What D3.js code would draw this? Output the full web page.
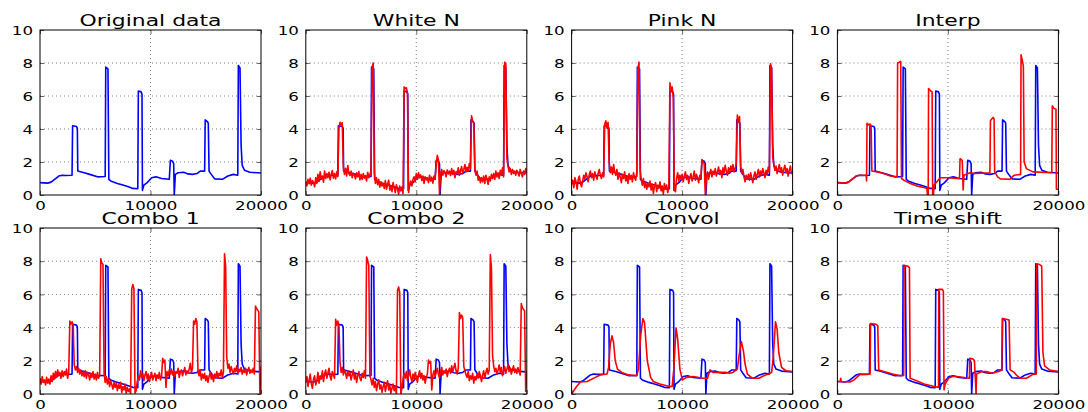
<!DOCTYPE html>
<html>
<head>
<meta charset="utf-8">
<script src="https://cdn.jsdelivr.net/npm/d3@7"></script>
<style>
body { margin: 0; background: #fff; }
text { font-family: "DejaVu Sans", sans-serif; fill: #000; }
</style>
</head>
<body>
<div class="chart"></div>
<script>
// Panel titles and tick labels
var titles = ["Original data", "White N", "Pink N", "Interp", "Combo 1", "Combo 2", "Convol", "Time shift"];
var xTicks = [0, 10000, 20000];
var yTicks = [0, 2, 4, 6, 8, 10];

// Original signal, [sample, value] breakpoints
var original = [[0,0.75],[700,0.72],[1000,0.78],[1700,1.15],[2000,1.2],[2300,1.18],[2900,1.2],[2950,4.2],[3300,4.15],[3380,4.05],
  [3420,1.45],[4000,1.35],[4500,1.25],[5200,1.1],[5900,1.12],[5950,7.75],[6150,7.65],[6230,0.95],[6400,0.85],[7000,0.7],
  [7500,0.6],[8000,0.5],[8400,0.4],[8850,0.38],[8900,6.3],[9150,6.25],[9230,6.1],[9270,0.28],[9400,0.6],[9700,0.75],
  [10100,1.05],[10500,1.1],[11000,1.0],[11700,0.95],[11800,2.1],[12000,2.05],[12100,1.9],[12150,0.02],[12250,1.25],[12500,1.35],
  [13000,1.38],[13400,1.28],[13800,1.25],[14200,1.3],[14500,1.45],[14900,1.45],[14950,4.55],[15150,4.45],[15230,4.35],[15300,1.45],
  [15500,1.25],[15800,0.98],[16500,0.95],[17000,1.15],[17500,1.25],[17900,1.2],[17950,7.85],[18100,7.7],[18200,3.0],[18300,1.8],
  [18500,1.5],[19000,1.38],[20000,1.33]];

// Time-warped signal
var interp = [[0,0.75],[700,0.72],[1000,0.78],[1700,1.15],[2000,1.2],[2600,1.2],[2640,0.85],[2680,4.35],[2800,4.25],[2950,4.3],
  [3050,4.2],[3120,1.45],[3600,1.4],[4200,1.3],[4800,1.15],[5400,1.1],[5450,8.0],[5600,8.05],[5730,8.1],[5800,1.0],
  [6000,0.9],[6600,0.7],[7200,0.55],[7800,0.45],[8100,0.4],[8150,0.0],[8220,0.0],[8250,6.45],[8450,6.3],[8570,6.25],
  [8620,0.0],[8700,0.05],[8750,0.6],[9000,0.8],[9300,1.05],[10000,1.05],[10800,1.0],[11050,1.0],[11100,2.2],[11300,2.1],
  [11380,0.3],[11450,1.2],[12000,1.35],[12500,1.3],[13800,1.35],[13850,4.5],[13950,4.6],[14100,4.7],[14180,4.6],[14230,1.4],
  [14500,1.1],[14750,0.98],[15600,0.95],[16000,1.2],[16580,1.25],[16620,8.5],[16750,8.1],[16830,7.8],[16900,2.0],[17100,1.6],
  [17700,1.4],[19400,1.35],[19450,5.4],[19600,5.25],[19780,5.2],[19820,0.35],[20000,0.35]];

// Smoothed (convolved) signal
var convol = [[0,0],[450,0.45],[800,0.72],[1400,0.75],[2150,1.0],[2600,1.15],[3200,1.2],[3350,1.6],[3500,3.0],[3650,3.5],
  [3800,3.1],[3950,2.0],[4150,1.5],[4550,1.3],[5140,1.15],[5890,1.1],[6050,1.5],[6250,3.5],[6450,4.55],[6600,4.3],
  [6850,2.0],[7150,1.0],[7400,0.75],[7980,0.6],[8880,0.45],[9100,0.45],[9250,1.5],[9450,3.98],[9600,3.3],[9800,1.5],
  [10020,0.85],[10400,1.0],[11000,1.05],[11900,0.95],[12300,0.95],[12530,1.45],[12800,1.3],[14000,1.3],[14300,1.25],[14600,1.3],
  [15000,1.5],[15150,2.3],[15370,3.15],[15550,2.6],[15700,1.8],[15910,1.2],[16350,0.95],[16950,0.95],[17550,1.15],[17850,1.2],
  [18100,1.3],[18250,2.2],[18450,4.35],[18600,3.9],[18750,2.5],[19000,1.6],[19400,1.4],[20000,1.35]];

// Time-shifted signal
var shifted = [[0,0.75],[250,0.75],[300,0.95],[350,0.75],[1150,0.72],[1500,0.85],[2050,1.18],[2960,1.2],[3000,4.25],[3500,4.2],
  [3650,4.12],[3740,1.45],[4200,1.35],[5000,1.2],[5670,1.1],[6000,1.12],[6030,7.75],[6400,7.7],[6520,7.6],[6580,0.95],
  [7000,0.85],[7850,0.6],[8750,0.45],[9150,0.4],[9170,6.3],[9500,6.3],[9590,6.2],[9650,0.25],[9750,0.6],[10050,0.95],
  [10400,1.05],[10800,1.05],[11950,0.95],[11980,2.15],[12300,2.1],[12400,2.0],[12550,0.0],[12600,1.2],[13060,1.35],[13500,1.35],
  [14000,1.25],[14600,1.35],[14870,1.45],[14930,4.55],[15300,4.5],[15540,4.45],[15630,1.45],[16000,1.3],[16250,1.1],[16530,0.95],
  [17100,0.95],[17740,1.2],[18000,1.2],[18040,7.85],[18300,7.8],[18490,7.7],[18600,2.5],[18750,1.7],[19200,1.45],[20000,1.35]];

// Noisy series, one value every noiseStep samples
var noiseStep = 100;
var whiteN = [
  0.82,0.55,0.95,0.68,1.02,0.60,0.88,0.75,0.50,1.05,
  0.70,1.25,0.82,1.40,0.95,1.15,0.78,1.45,1.00,1.30,
  1.05,1.38,0.92,1.25,1.48,1.02,1.30,0.98,1.40,1.12,
  4.05,4.40,4.25,4.38,1.70,1.25,1.62,1.15,1.78,1.30,
  1.18,1.45,1.05,1.32,1.20,0.98,1.35,1.10,1.42,0.92,
  1.25,0.95,1.30,1.02,1.18,0.85,1.38,1.05,1.22,1.48,
  7.70,8.00,1.35,0.70,1.05,0.62,0.95,0.48,0.80,0.55,
  0.72,0.40,0.88,0.35,0.65,0.90,0.30,0.58,0.20,0.75,
  0.45,0.15,0.62,0.38,0.05,0.55,0.25,0.48,0.08,6.55,
  6.45,6.50,6.20,0.15,0.62,0.85,0.55,0.95,1.10,0.80,
  1.30,0.95,1.35,1.05,1.22,0.88,1.15,0.70,1.10,0.92,
  1.05,0.75,1.20,0.85,1.08,0.72,1.15,0.95,1.85,2.40,
  2.15,0.05,1.30,1.55,1.20,1.48,1.35,1.10,1.52,1.28,
  1.45,1.18,1.60,1.25,1.50,1.05,1.42,1.30,1.65,1.20,
  1.48,1.72,1.30,1.55,1.85,1.40,1.68,1.45,1.90,1.60,
  4.80,4.50,4.35,1.55,1.20,1.45,0.90,1.10,0.75,1.05,
  0.80,1.15,0.70,1.20,0.95,0.65,1.10,0.85,1.25,1.00,
  1.30,0.95,1.45,1.10,1.35,1.00,1.50,1.20,1.65,1.10,
  8.05,7.95,2.20,1.75,1.40,1.60,1.25,1.55,1.30,1.45,
  1.20,1.50,1.35,1.15,1.55,1.30,1.10,1.45,1.25,1.60,
  1.40];
var pinkN = [
  0.65,0.90,0.45,1.05,0.80,0.35,0.95,1.15,0.70,0.50,
  0.85,1.20,0.95,1.35,1.10,0.80,1.25,1.45,1.05,1.30,
  0.90,1.40,1.15,0.95,1.30,1.55,1.20,1.00,1.35,1.10,
  4.30,4.50,4.05,4.40,2.00,1.35,1.70,1.25,1.85,1.40,
  1.20,1.55,0.95,1.35,1.10,0.75,1.25,1.00,1.40,0.85,
  1.15,0.70,1.30,0.95,1.20,0.80,1.35,1.05,0.90,1.40,
  7.60,8.05,1.50,0.95,0.60,1.00,0.45,0.80,0.35,0.70,
  0.50,0.85,0.30,0.65,0.10,0.55,0.75,0.20,0.60,0.40,
  0.80,0.25,0.55,0.05,0.70,0.35,0.60,0.15,0.50,6.80,
  6.30,6.55,5.90,0.30,0.20,1.00,1.35,0.85,1.20,0.95,
  1.25,0.80,1.15,1.40,0.95,1.20,0.70,1.05,1.30,0.85,
  1.10,1.45,0.90,1.25,1.05,0.75,1.20,1.00,2.15,2.00,
  1.90,0.00,1.15,1.40,0.95,1.30,1.55,1.10,1.45,1.25,
  1.60,1.15,1.40,1.70,1.25,1.50,1.05,1.65,1.35,1.80,
  1.45,1.20,1.65,1.35,1.75,1.50,1.85,1.40,1.60,1.90,
  4.85,4.40,4.75,1.75,1.30,1.55,1.10,0.80,1.20,0.95,
  1.25,0.90,1.35,1.05,0.75,1.15,1.40,0.95,1.25,1.55,
  1.10,1.45,1.20,1.60,1.35,1.05,1.50,1.25,1.70,1.40,
  7.95,7.70,2.30,1.85,1.50,1.75,1.30,1.60,1.85,1.40,
  1.65,1.20,1.55,1.80,1.35,1.60,1.15,1.50,1.75,1.30,
  1.45];
var combo1 = [
  0.95,0.60,1.05,0.70,0.85,0.55,1.00,0.65,0.90,0.60,
  1.10,0.75,1.25,0.90,1.35,1.00,1.45,1.10,1.30,0.95,
  1.40,1.05,1.35,1.15,1.50,0.95,1.30,4.40,4.20,4.35,
  4.15,1.75,1.45,1.65,1.30,1.55,1.20,1.45,1.10,1.35,
  1.05,1.40,0.95,1.30,1.15,0.85,1.25,1.00,1.35,0.90,
  1.20,0.85,1.30,0.95,1.15,8.15,7.90,7.80,1.25,0.70,
  1.05,0.60,0.95,0.45,0.80,0.55,0.30,0.70,0.40,0.65,
  0.20,0.55,0.35,0.70,0.10,0.45,0.25,0.60,0.05,0.40,
  0.15,0.30,0.00,6.30,6.60,6.35,0.05,0.20,0.75,1.10,
  0.85,1.40,1.00,1.25,0.80,1.15,1.35,0.90,1.20,0.75,
  1.10,1.30,0.85,1.05,1.25,0.80,1.15,0.95,1.30,0.85,
  1.05,2.15,1.90,2.05,0.40,1.35,1.10,1.45,1.20,1.50,
  1.15,1.40,1.05,1.35,1.25,1.55,1.00,1.30,1.45,1.10,
  1.35,1.60,1.15,1.40,1.25,1.50,1.85,1.30,1.55,4.40,
  4.20,4.55,4.35,1.30,1.10,1.45,0.85,1.20,0.95,1.25,
  0.80,1.10,0.70,1.05,1.30,0.90,1.15,0.75,1.20,1.00,
  1.35,0.95,1.25,1.10,1.45,1.00,1.30,8.45,7.70,2.20,
  1.55,1.80,1.30,1.65,1.40,1.20,1.55,1.35,1.70,1.25,
  1.50,1.35,1.60,1.20,1.45,1.30,1.55,1.15,1.40,1.60,
  1.25,1.45,1.30,1.55,1.20,5.30,5.15,5.05,4.95,0.05,
  1.65];
var combo2 = [
  0.70,1.05,0.45,0.85,1.20,0.60,0.35,0.90,1.10,0.55,
  0.80,1.30,0.65,1.10,0.90,1.40,0.75,1.20,1.45,0.95,
  1.25,1.55,1.05,0.85,1.35,1.15,0.95,4.50,4.15,4.40,
  4.10,1.90,1.30,1.60,1.15,1.45,1.25,0.95,1.40,1.10,
  1.30,0.85,1.15,1.45,0.90,1.20,0.70,1.10,1.35,0.95,
  0.80,1.25,1.00,1.40,0.95,8.25,8.05,7.75,1.10,0.85,
  0.55,0.95,0.40,0.75,0.20,0.60,0.85,0.30,0.55,0.10,
  0.45,0.70,0.15,0.50,0.80,0.25,0.55,0.05,0.35,0.60,
  0.20,0.45,0.00,6.25,6.45,6.10,0.00,0.35,0.90,1.25,
  0.95,1.35,0.80,1.10,1.45,1.00,0.75,1.20,0.90,1.30,
  1.05,0.70,1.15,1.40,0.95,1.25,0.85,1.10,0.65,1.00,
  1.20,2.05,1.85,1.95,0.25,1.15,1.40,1.05,1.30,1.55,
  1.20,0.95,1.35,1.60,1.15,1.40,1.25,1.50,1.05,1.35,
  1.55,1.25,1.70,1.35,1.60,1.85,1.40,1.20,1.55,4.90,
  4.55,4.75,4.60,1.65,1.40,1.15,1.00,1.35,0.80,1.10,
  0.90,1.25,0.65,1.05,0.85,1.20,0.95,1.35,1.10,0.75,
  1.15,1.40,0.95,1.30,1.55,1.20,1.45,8.40,7.60,2.35,
  1.70,1.35,1.55,1.20,1.45,1.75,1.30,1.60,1.10,1.40,
  1.65,1.25,1.50,1.75,1.35,1.55,1.20,1.45,1.70,1.30,
  1.50,1.25,1.60,1.35,1.15,5.45,5.20,5.10,5.00,0.15,
  1.40];

// turn a regularly sampled series into [sample, value] pairs
function stepped(vals) {
  return vals.map(function (v, i) { return [i * noiseStep, v]; });
}

var blue = "#0000ff", red = "#ff0000";
var panels = [
  { title: titles[0], lines: [original] },
  { title: titles[1], lines: [original, stepped(whiteN)] },
  { title: titles[2], lines: [original, stepped(pinkN)] },
  { title: titles[3], lines: [original, interp] },
  { title: titles[4], lines: [original, stepped(combo1)] },
  { title: titles[5], lines: [original, stepped(combo2)] },
  { title: titles[6], lines: [original, convol] },
  { title: titles[7], lines: [original, shifted] }
];

// layout of the 2 x 4 grid
var svgWidth = 1088, svgHeight = 412;
var plotWidth = 221;
var colLeft = [40, 305.8, 571.6, 837.4];
var rowTop = [30, 228];
var rowHeight = [165, 166];
var stretch = 1.28;  // glyphs in the picture are wider than normal

var svg = d3.select(".chart")
  .append("svg")
  .attr("width", svgWidth)
  .attr("height", svgHeight);

var xScale = d3.scaleLinear().domain([0, 20000]).range([0, plotWidth]);

panels.forEach(function (p, i) {
  var row = Math.floor(i / 4), col = i % 4;
  var h = rowHeight[row];
  var yScale = d3.scaleLinear().domain([0, 10]).range([h, 0]);

  var g = svg.append("g")
    .attr("transform", `translate(${colLeft[col]}, ${rowTop[row]})`);

  g.append("clipPath").attr("id", "clip" + i)
    .append("rect").attr("width", plotWidth).attr("height", h);

  // dotted grid
  g.selectAll(".hgrid")
    .data(yTicks.slice(1, -1))
    .enter().append("line")
    .attr("x1", 0).attr("x2", plotWidth)
    .attr("y1", d => yScale(d)).attr("y2", d => yScale(d))
    .attr("stroke", "#444").attr("stroke-width", 0.7)
    .attr("stroke-dasharray", "1,3");
  g.append("line")
    .attr("x1", xScale(10000)).attr("x2", xScale(10000))
    .attr("y1", 0).attr("y2", h)
    .attr("stroke", "#444").attr("stroke-width", 0.7)
    .attr("stroke-dasharray", "1,3");

  // series: blue original first, red variant on top
  var line = d3.line()
    .x(d => xScale(d[0]))
    .y(d => yScale(d[1]));
  g.append("g").attr("clip-path", `url(#clip${i})`)
    .selectAll("path")
    .data(p.lines)
    .enter().append("path")
    .attr("d", line)
    .attr("fill", "none")
    .attr("stroke", (d, j) => j === 0 ? blue : red)
    .attr("stroke-width", 1.6)
    .attr("stroke-linejoin", "round");

  // inward ticks on all four sides
  var left = g.append("g").call(d3.axisLeft(yScale).tickValues(yTicks).tickSize(-4).tickSizeOuter(0));
  var bottom = g.append("g").attr("transform", `translate(0, ${h})`)
    .call(d3.axisBottom(xScale).tickValues(xTicks).tickFormat(d3.format("d")).tickSize(-4).tickSizeOuter(0));
  g.append("g").attr("transform", `translate(${plotWidth}, 0)`)
    .call(d3.axisRight(yScale).tickValues(yTicks).tickSize(-4).tickSizeOuter(0).tickFormat(""));
  g.append("g")
    .call(d3.axisTop(xScale).tickValues(xTicks).tickSize(-4).tickSizeOuter(0).tickFormat(""));
  g.selectAll(".domain").remove();
  g.selectAll(".tick line").attr("stroke", "#000").attr("stroke-width", 0.6);

  left.selectAll("text")
    .attr("x", null).attr("dy", null)
    .attr("transform", `translate(-7, 4.7) scale(${stretch}, 1)`)
    .style("font-size", "13px").style("font-family", "DejaVu Sans");
  bottom.selectAll("text")
    .attr("y", null).attr("dy", null)
    .attr("transform", `translate(0, 15) scale(${stretch}, 1)`)
    .style("font-size", "13px").style("font-family", "DejaVu Sans");

  // frame
  g.append("rect")
    .attr("width", plotWidth).attr("height", h)
    .attr("fill", "none").attr("stroke", "#000").attr("stroke-width", 1);

  g.append("text")
    .attr("transform", `translate(${plotWidth / 2}, -4) scale(1.37, 1)`)
    .attr("text-anchor", "middle")
    .style("font-size", "16px")
    .text(p.title);
});
</script>
</body>
</html>
